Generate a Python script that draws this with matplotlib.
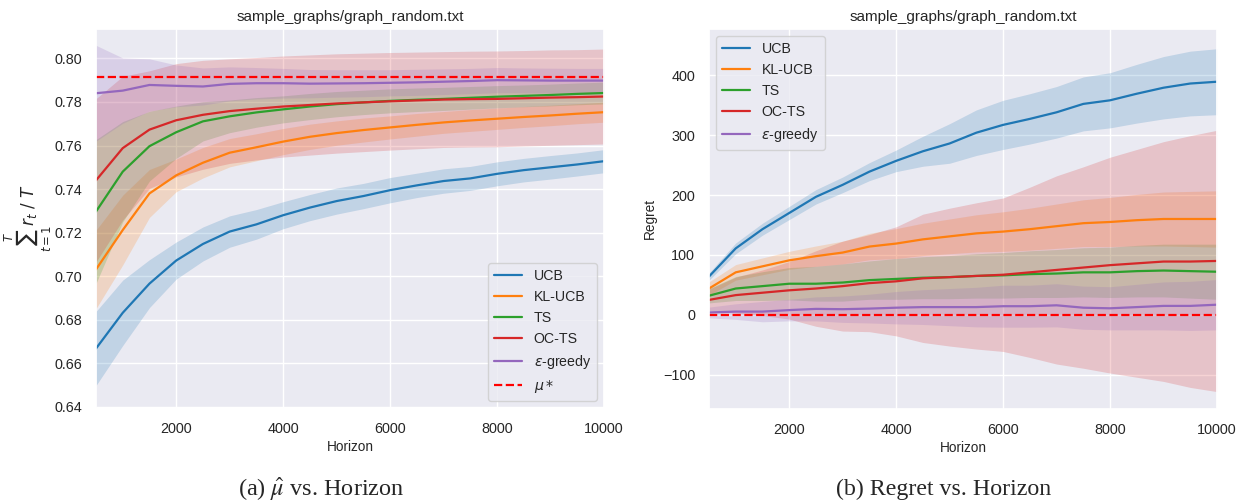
import matplotlib
matplotlib.use('Agg')
import matplotlib.pyplot as plt
import seaborn as sns
import numpy as np

sns.set_theme(style='darkgrid')
plt.rcParams['font.family'] = ['Liberation Sans', 'DejaVu Sans']

# horizons
horizon = [500, 1000, 1500, 2000, 2500, 3000, 3500, 4000, 4500, 5000,
           5500, 6000, 6500, 7000, 7500, 8000, 8500, 9000, 9500, 10000]
algos = ['UCB', 'KL-UCB', 'TS', 'OC-TS', r'$\epsilon$-greedy']
colors = ['tab:blue', 'tab:orange', 'tab:green', 'tab:red', 'tab:purple']

# (a) average reward, mean and std
ucb_mu = [0.6668, 0.6832, 0.6966, 0.7072, 0.7148, 0.7205, 0.7238, 0.7280, 0.7315, 0.7345,
          0.7368, 0.7395, 0.7417, 0.7437, 0.7449, 0.7470, 0.7487, 0.7500, 0.7513, 0.7528]
klucb_mu = [0.7031, 0.7212, 0.7380, 0.7463, 0.7521, 0.7567, 0.7592, 0.7618, 0.7640, 0.7657,
            0.7671, 0.7683, 0.7695, 0.7706, 0.7715, 0.7723, 0.7731, 0.7738, 0.7746, 0.7753]
ts_mu = [0.7297, 0.7480, 0.7597, 0.7661, 0.7711, 0.7734, 0.7752, 0.7766, 0.7779, 0.7790,
         0.7798, 0.7805, 0.7810, 0.7814, 0.7819, 0.7824, 0.7828, 0.7832, 0.7837, 0.7841]
octs_mu = [0.7440, 0.7588, 0.7673, 0.7716, 0.7741, 0.7758, 0.7769, 0.7779, 0.7786, 0.7793,
           0.7798, 0.7803, 0.7807, 0.7811, 0.7813, 0.7814, 0.7817, 0.7820, 0.7822, 0.7825]
eps_mu = [0.7840, 0.7852, 0.7878, 0.7874, 0.7871, 0.7883, 0.7886, 0.7886, 0.7884, 0.7885,
          0.7886, 0.7888, 0.7890, 0.7893, 0.7896, 0.7900, 0.7899, 0.7898, 0.7898, 0.7898]
mu_star = 0.7915

ucb_mu_sd = [0.017, 0.015, 0.011, 0.0085, 0.0078, 0.0072, 0.0068, 0.0062, 0.0060, 0.0060,
             0.0058, 0.0058, 0.0056, 0.0056, 0.0055, 0.0055, 0.0054, 0.0054, 0.0053, 0.0053]
klucb_mu_sd = [0.018, 0.016, 0.011, 0.0075, 0.0070, 0.0065, 0.0062, 0.0060, 0.0058, 0.0056,
               0.0055, 0.0053, 0.0052, 0.0050, 0.0050, 0.0049, 0.0048, 0.0047, 0.0046, 0.0046]
ts_mu_sd = [0.033, 0.023, 0.016, 0.012, 0.009, 0.0075, 0.0068, 0.0062, 0.0060, 0.0058,
            0.0056, 0.0055, 0.0054, 0.0053, 0.0052, 0.0051, 0.0050, 0.0050, 0.0050, 0.0050]
octs_mu_sd = [0.0375, 0.033, 0.027, 0.026, 0.025, 0.024, 0.0235, 0.0232, 0.023, 0.0228,
              0.0226, 0.0224, 0.0222, 0.022, 0.022, 0.022, 0.0219, 0.0219, 0.0218, 0.0218]
eps_mu_sd = [0.022, 0.015, 0.012, 0.0096, 0.0085, 0.0078, 0.0072, 0.0068, 0.0065, 0.0063,
             0.0062, 0.0060, 0.0060, 0.0059, 0.0058, 0.0058, 0.0057, 0.0057, 0.0056, 0.0056]

# (b) regret, mean and std
ucb_reg = [64, 111, 143, 170, 197, 217, 239, 257, 273, 286,
           304, 317, 327, 338, 352, 358, 369, 379, 386, 389]
klucb_reg = [44, 71, 81, 91, 98, 104, 114, 119, 126, 131,
             136, 139, 143, 148, 153, 155, 158, 160, 160, 160]
ts_reg = [32, 44, 48, 52, 52, 54, 58, 60, 62, 63,
          65, 66, 68, 69, 71, 71, 73, 74, 73, 72]
octs_reg = [25, 33, 37, 41, 44, 48, 53, 56, 61, 63,
            65, 67, 71, 75, 79, 83, 86, 89, 89, 90]
eps_reg = [4, 5.5, 5.5, 8, 10, 9.5, 10.5, 12, 13, 13,
           13, 14.5, 14.5, 16, 12, 11, 13, 15, 15, 17]

ucb_reg_sd = [6, 9, 10, 11, 12, 13, 15, 18, 25, 33,
              38, 41, 42, 43, 45, 46, 49, 52, 54, 55]
klucb_reg_sd = [11, 13, 14, 15, 17, 19, 22, 25, 27, 29,
                31, 33, 35, 37, 39, 41, 43, 45, 46, 47]
ts_reg_sd = [12, 20, 24, 27, 29, 31, 32, 34, 35, 36,
             37, 38, 39, 40, 41, 42, 43, 44, 45, 46]
octs_reg_sd = [18, 30, 38, 48, 63, 75, 81, 91, 107, 115,
               122, 128, 142, 157, 168, 180, 190, 200, 210, 218]
eps_reg_sd = [9, 13, 17, 18, 20, 22, 24, 27, 29, 31,
              33, 35, 35, 36, 36, 36, 38, 40, 41, 42]

mu_means = [ucb_mu, klucb_mu, ts_mu, octs_mu, eps_mu]
mu_sds = [ucb_mu_sd, klucb_mu_sd, ts_mu_sd, octs_mu_sd, eps_mu_sd]
reg_means = [ucb_reg, klucb_reg, ts_reg, octs_reg, eps_reg]
reg_sds = [ucb_reg_sd, klucb_reg_sd, ts_reg_sd, octs_reg_sd, eps_reg_sd]

fig = plt.figure(figsize=(12.5, 5.04), dpi=100)
ax1 = fig.add_axes([0.0768, 0.1905, 0.4064, 0.752])
ax2 = fig.add_axes([0.5672, 0.1885, 0.4064, 0.754])

x = np.array(horizon)
for ax, means, sds in [(ax1, mu_means, mu_sds), (ax2, reg_means, reg_sds)]:
    for name, c, m, s in zip(algos, colors, means, sds):
        m = np.array(m)
        s = np.array(s)
        ax.plot(x, m, color=c, lw=1.6, label=name)
        ax.fill_between(x, m - s, m + s, color=c, alpha=0.2, lw=0)

ax1.axhline(mu_star, color='red', ls='--', lw=1.6, label=r'$\mu*$')
ax2.axhline(0, color='red', ls='--', lw=1.6)

for ax in (ax1, ax2):
    ax.set_xlim(500, 10000)
    ax.set_xticks([2000, 4000, 6000, 8000, 10000])
    ax.tick_params(labelsize=10.4, pad=4)
    ax.set_xlabel('Horizon', fontsize=9.8, labelpad=3)
    ax.set_title('sample_graphs/graph_random.txt', fontsize=11, pad=6)

ax1.set_ylim(0.6395, 0.8135)
ax1.set_yticks(np.arange(0.64, 0.801, 0.02))
ax1.yaxis.set_major_formatter(matplotlib.ticker.FormatStrFormatter('%.2f'))
ax1.set_ylabel(r'$\sum_{t=1}^{T} r_t\ /\ T$', fontsize=12, labelpad=0)
ax1.legend(loc='lower right', fontsize=10.2)

ax2.set_ylim(-157, 477)
ax2.set_yticks([-100, 0, 100, 200, 300, 400])
ax2.set_ylabel('Regret', fontsize=9.8)
ax2.legend(loc='upper left', fontsize=10.2)

fig.text(0.2568, 0.028, r'(a) $\hat{\mu}$ vs. Horizon', ha='center', va='center',
         fontsize=17.5, family='Liberation Serif', math_fontfamily='stix')
fig.text(0.7552, 0.028, '(b) Regret vs. Horizon', ha='center', va='center',
         fontsize=17.2, family='Liberation Serif')

fig.savefig('out.png', dpi=100)
